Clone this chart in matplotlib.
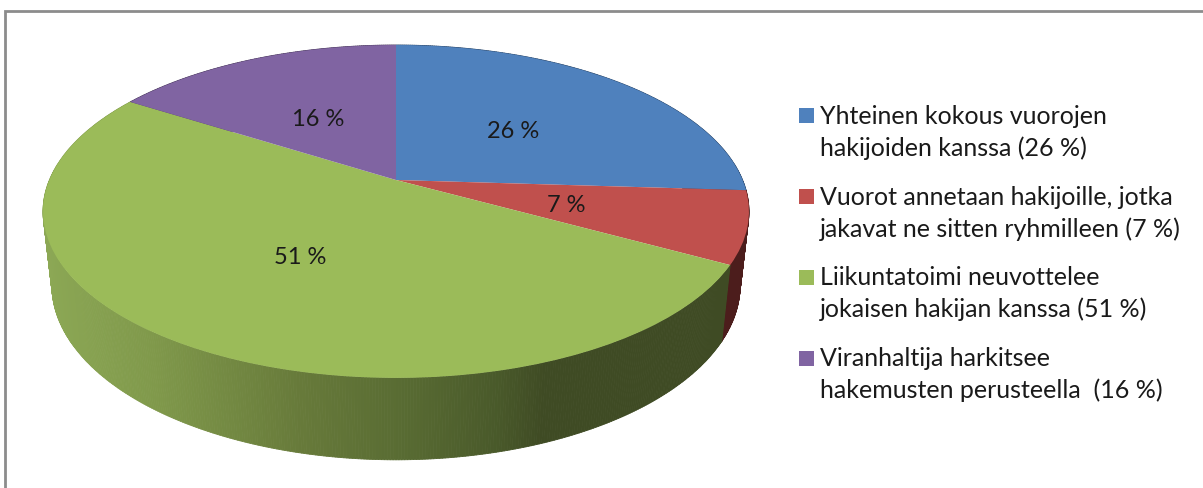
import numpy as np
import matplotlib
matplotlib.use("Agg")
import matplotlib.pyplot as plt
from matplotlib.transforms import Transform
from matplotlib.collections import PolyCollection
from matplotlib.patches import Rectangle

plt.rcParams['font.family'] = ['Lato', 'DejaVu Sans']

categories = ["Yhteinen kokous vuorojen\nhakijoiden kanssa (26 %)",
              "Vuorot annetaan hakijoille, jotka\njakavat ne sitten ryhmilleen (7 %)",
              "Liikuntatoimi neuvottelee\njokaisen hakijan kanssa (51 %)",
              "Viranhaltija harkitsee\nhakemusten perusteella  (16 %)"]
values = [26, 7, 51, 16]
value_labels = ["26 %", "7 %", "51 %", "16 %"]
colors = ["#4F81BD", "#C0504D", "#9BBB59", "#8064A2"]

W, H = 1203, 488
CX, CY = 396.0, 180.0      # apex of the pie on the page
SX, SY, K = 346.6, 160.5, 0.189   # perspective of the tilted disc


def project(x, y, drop=0.0, sx=1.0, sy=1.0):
    d = 1 + K * y
    return CX + sx * SX * x / d, CY + drop - sy * SY * y / d


class Tilt(Transform):
    input_dims = output_dims = 2
    is_affine = False
    has_inverse = False

    def transform_non_affine(self, v):
        v = np.asarray(v, float)
        px, py = project(v[:, 0], v[:, 1])
        return np.column_stack([px, py])


fig = plt.figure(figsize=(W / 100, H / 100), dpi=100, facecolor="white")
ax = fig.add_axes([0, 0, 1, 1])

wedges, _ = ax.pie(values, colors=colors, startangle=90, counterclock=False, frame=False)
ax.set_aspect("auto")
ax.set_xlim(0, W)
ax.set_ylim(H, 0)
ax.axis("off")

tilt = Tilt() + ax.transData
for w in wedges:
    w.set_transform(tilt)
    w.set_clip_on(False)
    w.set_zorder(3)
    w.set_linewidth(0)

# side wall of the disc
green_pos = [40, 150, 300, 400, 500, 545, 760]
green_col = ["#8CA855", "#80994B", "#677A3A", "#596C33", "#49592A", "#3F4B24", "#3F4B24"]
rgb = np.array([matplotlib.colors.to_rgb(c) for c in green_col])
DROP, BX, BY = 72.0, 0.975, 1.05

quads, fc = [], []
edges = 90 - 3.6 * np.cumsum([0] + values)
for i, v in enumerate(values):
    th = np.radians(np.arange(edges[i], edges[i + 1] - 0.2, -0.4))
    th = np.append(th, np.radians(edges[i + 1]))
    for a, b in zip(th[:-1], th[1:]):
        x0, y0 = project(np.cos(a), np.sin(a))
        x1, y1 = project(np.cos(b), np.sin(b))
        x2, y2 = project(np.cos(b), np.sin(b), DROP, BX, BY)
        x3, y3 = project(np.cos(a), np.sin(a), DROP, BX, BY)
        quads.append([(x0, y0), (x1, y1), (x2, y2), (x3, y3)])
        xm = (x0 + x1) / 2
        if i == 2:
            c = [np.interp(xm, green_pos, rgb[:, k]) for k in range(3)]
        elif i == 1:
            c = matplotlib.colors.to_rgb("#4C1D1C")
        elif i == 0:
            c = matplotlib.colors.to_rgb("#2F4D71")
        else:
            c = matplotlib.colors.to_rgb("#4D3C61")
        fc.append(c)
ax.add_collection(PolyCollection(quads, facecolors=fc, edgecolors=fc, linewidths=0.6, zorder=2))

# value labels on the slices
label_xy = [(513, 131), (566, 205), (300, 257), (318, 119)]
for (x, y), s in zip(label_xy, value_labels):
    ax.text(x, y, s, ha="center", va="center", fontsize=17, color="#1a1a1a", zorder=5)

# legend
key_y = [108, 189, 270, 351]
base_y = [124, 205, 285, 366]
for c, ky, by, cat in zip(colors, key_y, base_y, categories):
    ax.add_patch(Rectangle((799, ky), 15, 15, fc=c, ec="none", zorder=4))
    for j, line in enumerate(cat.split("\n")):
        ax.text(820, by + j * 32.3, line, ha="left", va="baseline", fontsize=18, color="#1a1a1a", zorder=5)

# chart area border
ax.plot([5, 5, W], [H, 11, 11], color="#8C8C8C", lw=2.0, solid_joinstyle="miter", zorder=1, clip_on=False)

fig.savefig("out.png", dpi=100, facecolor="white")
